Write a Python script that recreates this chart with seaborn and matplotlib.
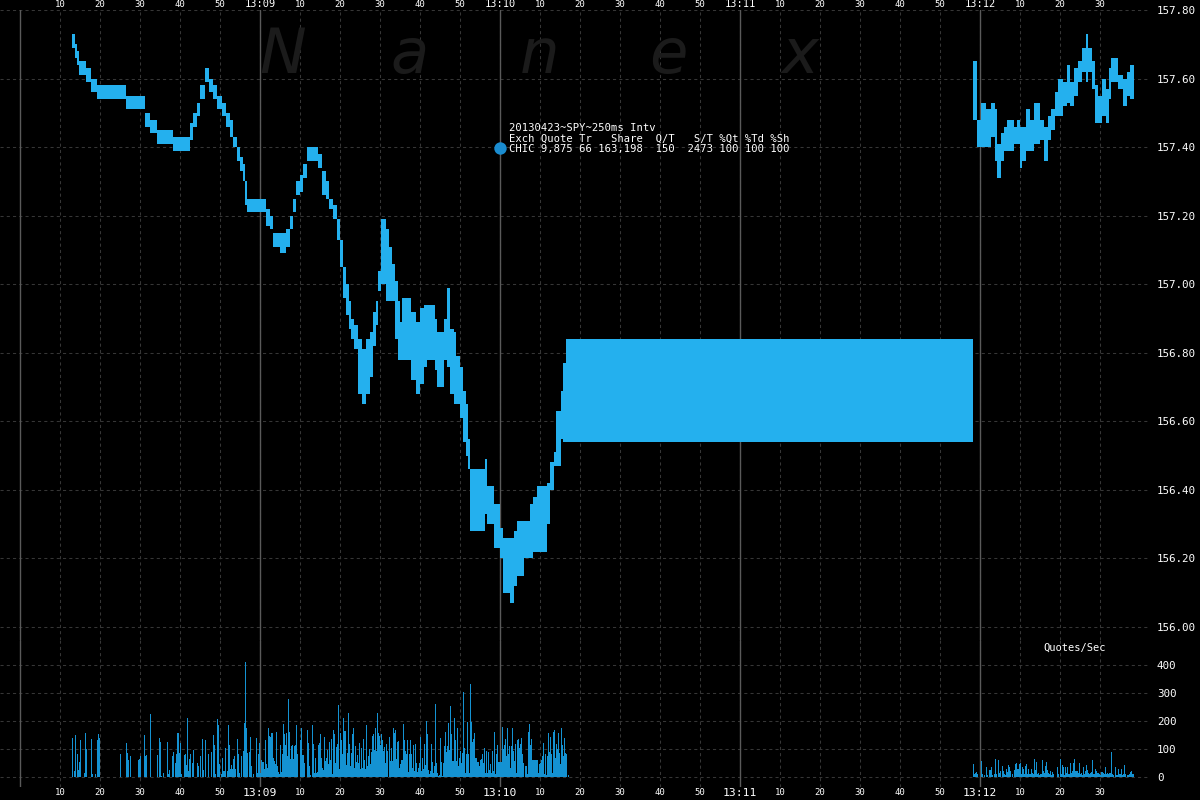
import numpy as np
import pandas as pd
import matplotlib
matplotlib.use("Agg")
import matplotlib.pyplot as plt
import seaborn as sns

# SPY 2013-04-23, CHIC quotes in 250ms intervals. time = seconds after 13:08:00
quote_t = [13.0, 13.75, 14.25, 14.75, 16.5, 17.75, 19.25, 26.5, 31.25, 32.5,
           34.25, 38.25, 42.5, 43.25, 44.25, 45.0, 46.25, 47.25, 48.25, 49.25,
           50.5, 51.5, 52.5, 53.25, 54.25, 55.0, 55.75, 56.25, 56.75, 61.5,
           62.5, 63.25, 65.0, 66.5, 67.5, 68.25, 69.0, 70.0, 70.75, 71.75,
           74.5, 75.5, 76.5, 77.25, 78.25, 79.25, 80.0, 80.75, 81.5, 82.25,
           82.75, 83.5, 84.5, 85.5, 86.5, 87.5, 88.25, 89.0, 89.5, 90.25,
           91.5, 92.25, 93.0, 93.75, 94.5, 95.0, 95.5, 97.75, 99.0, 100.0,
           101.0, 101.75, 103.75, 104.25, 106.0, 106.75, 107.5, 108.5, 109.0, 110.0,
           110.75, 111.5, 112.0, 112.5, 116.25, 116.75, 118.5, 120.0, 120.75, 122.5,
           123.5, 124.25, 126.0, 127.5, 128.25, 129.25, 131.75, 132.5, 133.5, 134.0,
           135.25, 135.75, 136.5,
           238.25, 239.25, 240.25, 241.5, 242.75, 243.75, 244.25, 245.25, 246.0, 246.75,
           248.5, 249.25, 250.0, 250.5, 251.5, 252.5, 253.5, 255.0, 256.0, 257.0,
           257.75, 258.75, 259.5, 260.75, 261.75, 262.5, 263.5, 264.5, 265.5, 266.5,
           267.0, 268.0, 268.75, 269.5, 270.5, 271.5, 272.25, 272.75, 274.5, 275.75,
           276.75, 277.5, 278.5]
quote_ask = [157.73, 157.70, 157.68, 157.65, 157.63, 157.60, 157.58, 157.55, 157.50, 157.48,
             157.45, 157.43, 157.47, 157.50, 157.53, 157.58, 157.63, 157.60, 157.58, 157.55,
             157.53, 157.50, 157.48, 157.43, 157.40, 157.37, 157.35, 157.30, 157.25, 157.22,
             157.20, 157.15, 157.15, 157.16, 157.20, 157.25, 157.30, 157.32, 157.35, 157.40,
             157.38, 157.33, 157.30, 157.25, 157.23, 157.19, 157.13, 157.05, 157.00, 156.95,
             156.90, 156.88, 156.84, 156.81, 156.84, 156.86, 156.92, 156.95, 157.04, 157.19,
             157.16, 157.11, 157.06, 157.01, 156.95, 156.89, 156.96, 156.92, 156.89, 156.93,
             156.94, 156.94, 156.90, 156.86, 156.90, 156.99, 156.87, 156.86, 156.79, 156.76,
             156.69, 156.65, 156.55, 156.46, 156.49, 156.41, 156.36, 156.29, 156.26, 156.26,
             156.28, 156.31, 156.31, 156.36, 156.38, 156.41, 156.42, 156.48, 156.51, 156.63,
             156.69, 156.77, 156.84,
             157.65, 157.48, 157.53, 157.51, 157.53, 157.51, 157.41, 157.44, 157.46, 157.48,
             157.46, 157.48, 157.46, 157.46, 157.51, 157.48, 157.53, 157.48, 157.46, 157.49,
             157.51, 157.56, 157.60, 157.59, 157.64, 157.59, 157.63, 157.65, 157.69, 157.73,
             157.69, 157.65, 157.58, 157.55, 157.60, 157.57, 157.63, 157.66, 157.61, 157.60,
             157.62, 157.64, 157.64]
quote_bid = [157.69, 157.66, 157.64, 157.61, 157.59, 157.56, 157.54, 157.51, 157.46, 157.44,
             157.41, 157.39, 157.42, 157.46, 157.49, 157.54, 157.59, 157.56, 157.54, 157.51,
             157.49, 157.46, 157.43, 157.40, 157.36, 157.33, 157.30, 157.23, 157.21, 157.17,
             157.16, 157.11, 157.09, 157.11, 157.16, 157.21, 157.26, 157.27, 157.31, 157.36,
             157.34, 157.26, 157.25, 157.22, 157.19, 157.13, 157.05, 156.96, 156.91, 156.87,
             156.84, 156.81, 156.68, 156.65, 156.68, 156.73, 156.82, 156.88, 156.98, 157.00,
             156.95, 156.95, 156.95, 156.84, 156.78, 156.78, 156.78, 156.72, 156.68, 156.71,
             156.76, 156.78, 156.75, 156.70, 156.78, 156.76, 156.68, 156.65, 156.65, 156.61,
             156.54, 156.50, 156.46, 156.28, 156.33, 156.30, 156.23, 156.20, 156.10, 156.07,
             156.12, 156.15, 156.20, 156.20, 156.22, 156.22, 156.30, 156.40, 156.47, 156.47,
             156.55, 156.54, 156.54,
             157.48, 157.40, 157.40, 157.40, 157.43, 157.36, 157.31, 157.36, 157.39, 157.39,
             157.41, 157.41, 157.34, 157.36, 157.39, 157.39, 157.41, 157.42, 157.36, 157.42,
             157.45, 157.49, 157.49, 157.52, 157.53, 157.52, 157.55, 157.59, 157.62, 157.59,
             157.62, 157.57, 157.47, 157.47, 157.49, 157.47, 157.54, 157.59, 157.57, 157.52,
             157.55, 157.54, 157.54]

# quotes/sec, one value per 250ms interval
qps_a_start = 13.0      # 13:08:13
qps_a = [140, 0, 21, 149, 0, 81, 24, 55, 131, 0, 0, 0, 15, 156, 99, 0, 0, 0, 0, 134,
         12, 0, 0, 10, 0, 131, 152, 140, 0, 0, 0, 0, 0, 0, 0, 0, 0, 0, 0, 0,
         0, 0, 0, 0, 0, 0, 0, 0, 81, 0, 0, 0, 0, 0, 123, 87, 60, 0, 74, 0,
         0, 0, 0, 0, 0, 0, 60, 63, 74, 0, 0, 0, 149, 74, 77, 0, 0, 0, 226, 0,
         0, 0, 0, 0, 0, 77, 0, 140, 126, 4, 0, 15, 0, 0, 0, 126, 10, 24, 0, 0,
         74, 90, 0, 49, 83, 158, 158, 87, 123, 10, 0, 0, 79, 81, 42, 212, 21, 63, 81, 0,
         51, 95, 0, 0, 0, 51, 38, 0, 75, 0, 134, 24, 0, 131, 0, 0, 81, 0, 0, 89,
         0, 149, 113, 10, 0, 208, 184, 45, 0, 10, 67, 21, 21, 105, 0, 21, 184, 113, 27, 42,
         27, 65, 75, 27, 0, 134, 81, 15, 0, 74, 0, 93, 194, 412, 174, 86, 0, 89, 144, 38,
         0, 10, 0, 0, 140, 14, 81, 120, 15, 60, 55, 55, 27, 131, 45, 31, 176, 146, 143, 158,
         158, 67, 57, 45, 162, 38, 19, 10, 114, 19, 81, 190, 152, 114, 158, 75, 277, 162, 63, 111,
         114, 63, 111, 114, 184, 83, 0, 0, 131, 174, 77, 77, 50, 0, 0, 167, 120, 39, 7, 0,
         186, 117, 15, 67, 14, 19, 114, 120, 155, 67, 31, 25, 144, 57, 67, 96, 45, 126, 60, 134,
         12, 167, 152, 51, 107, 119, 257, 27, 157, 131, 83, 209, 164, 164, 43, 87, 227, 117, 39, 84,
         152, 174, 31, 111, 55, 77, 51, 123, 27, 102, 33, 134, 60, 27, 186, 39, 75, 99, 48, 90,
         146, 152, 95, 174, 93, 227, 158, 146, 114, 152, 131, 93, 107, 51, 119, 93, 0, 143, 57, 105,
         57, 174, 157, 167, 63, 126, 129, 33, 45, 60, 62, 190, 131, 93, 81, 131, 19, 81, 131, 83,
         33, 114, 21, 119, 51, 19, 33, 51, 143, 21, 69, 27, 117, 43, 200, 155, 24, 10, 21, 117,
         55, 15, 38, 259, 51, 15, 4, 7, 140, 55, 4, 51, 111, 162, 90, 111, 194, 95, 253, 152,
         57, 57, 209, 131, 57, 176, 39, 69, 93, 51, 87, 305, 105, 15, 83, 198, 83, 15, 333, 198,
         126, 134, 158, 67, 67, 55, 55, 39, 60, 63, 81, 51, 102, 15, 93, 15, 90, 24, 45, 15,
         93, 21, 162, 12, 81, 114, 55, 55, 55, 55, 179, 99, 114, 134, 75, 174, 81, 111, 31, 111,
         174, 93, 57, 117, 15, 131, 134, 102, 119, 140, 81, 51, 0, 38, 38, 12, 162, 188, 114, 134,
         60, 60, 60, 60, 60, 60, 15, 45, 51, 60, 75, 123, 12, 83, 7, 75, 158, 90, 143, 81,
         15, 162, 167, 67, 119, 99, 158, 87, 45, 176, 113, 75, 140, 87, 83, 0, 7]
qps_b_start = 238.25    # 13:11:58.25
qps_b = [46, 11, 15, 19, 11, 0, 0, 0, 57, 11, 0, 8, 0, 37, 8, 0, 25, 25, 37, 8,
         0, 11, 64, 11, 0, 61, 13, 23, 0, 39, 23, 11, 8, 27, 19, 43, 37, 23, 0, 11,
         0, 25, 46, 51, 27, 27, 46, 49, 11, 37, 27, 11, 39, 46, 11, 27, 11, 11, 27, 15,
         11, 63, 25, 55, 11, 13, 6, 11, 11, 61, 23, 13, 39, 55, 25, 13, 11, 23, 8, 19,
         11, 0, 0, 0, 37, 11, 0, 63, 11, 42, 37, 8, 35, 13, 37, 11, 11, 51, 13, 23,
         49, 63, 23, 23, 23, 13, 49, 11, 15, 8, 37, 11, 23, 43, 25, 13, 11, 13, 19, 61,
         11, 11, 27, 23, 13, 13, 11, 7, 19, 19, 15, 11, 37, 11, 13, 11, 13, 15, 89, 11,
         8, 0, 37, 6, 6, 27, 11, 11, 27, 8, 11, 42, 11, 0, 8, 8, 11, 19, 23, 11, 11]

price_ticks = [156.0, 156.2, 156.4, 156.6, 156.8, 157.0, 157.2, 157.4, 157.6, 157.8]
qps_ticks = [0, 100, 200, 300, 400]
sec_ticks = list(range(10, 280, 10))
minute_lines = [0, 60, 120, 180, 240]

sec_labels = []
for s in sec_ticks:
    if s % 60 == 0:
        sec_labels.append("13:%02d" % (8 + s // 60))
    else:
        sec_labels.append(str(s % 60))

legend_lines = ["20130423~SPY~250ms Intv",
                "Exch Quote Tr   Share  Q/T   S/T %Qt %Td %Sh",
                "CHIC 9,875 66 163,198  150  2473 100 100 100"]

BAND = "#24b0ee"
BARS = "#1492d2"
GRID = "#363636"

sns.set_style("dark", {"axes.facecolor": "black", "figure.facecolor": "black",
                       "grid.color": GRID, "axes.edgecolor": "black"})
plt.rcParams["font.family"] = ["DejaVu Sans Mono", "DejaVu Sans"]

fig = plt.figure(figsize=(12, 8), dpi=100)
fig.patch.set_facecolor("black")
W, H = 1200.0, 800.0
ax_p = fig.add_axes([0, 1 - 640 / H, 1150 / W, 630 / H])
ax_v = fig.add_axes([0, 1 - 787 / H, 1150 / W, 147 / H])

# watermark
for ch, cx in zip("Nanex", [283, 410, 540, 668, 800]):
    fig.text(cx / W, 1 - 73 / H, ch, fontsize=45, style="italic", color="#1b1b1b",
             family="DejaVu Sans", ha="center", va="baseline", zorder=0)

xmin, xmax = -5, 282.5
for ax in (ax_p, ax_v):
    ax.set_facecolor("none")
    ax.set_xlim(xmin, xmax)
    ax.set_xticks(sec_ticks)
    ax.grid(True, color=GRID, linestyle=(0, (3, 3)), linewidth=0.75)
    ax.set_axisbelow(True)
    for sp in ax.spines.values():
        sp.set_visible(False)
    for m in minute_lines:
        ax.axvline(m, color="#5a5a5a", linewidth=1, zorder=1)
    ax.yaxis.tick_right()
    ax.tick_params(axis="y", length=0, pad=5, colors="white", labelsize=7.8)

# price band
ax_p.fill_between(quote_t, quote_bid, quote_ask, step="post", color=BAND,
                  linewidth=0, zorder=2)
ax_p.set_ylim(157.80 - 630 / 342.8, 157.80)
ax_p.set_yticks(price_ticks)
ax_p.set_yticklabels(["%.2f" % p for p in price_ticks])
ax_p.set_xticklabels(sec_labels)
ax_p.tick_params(axis="x", top=True, labeltop=True, bottom=False, labelbottom=False,
                 length=0, pad=0.5, colors="white", labelsize=6.5)

# quotes per second
t_a = qps_a_start + 0.25 * np.arange(len(qps_a)) + 0.125
t_b = qps_b_start + 0.25 * np.arange(len(qps_b)) + 0.125
vol = pd.DataFrame({"t": np.concatenate([t_a, t_b]), "q": qps_a + qps_b})
sns.barplot(data=vol, x="t", y="q", native_scale=True, width=1.0, color=BARS,
            saturation=1, linewidth=0, errorbar=None, ax=ax_v, zorder=2,
            antialiased=False)
ax_v.set_xlim(xmin, xmax)
ax_v.set_xticks(sec_ticks)
ax_v.set_xticklabels(sec_labels)
ax_v.set_ylim(-10 / 0.28, 137 / 0.28)
ax_v.set_yticks(qps_ticks)
ax_v.set_yticklabels([str(q) for q in qps_ticks])
ax_v.set_xlabel("")
ax_v.set_ylabel("")
ax_v.tick_params(axis="x", length=0, pad=1, colors="white", labelsize=6.5)
ax_v.text(1043 / 1150, 1 - 8 / 147, "Quotes/Sec", transform=ax_v.transAxes,
          color="white", fontsize=7.5, va="center", ha="left")

for ax, big in ((ax_p, 7.5), (ax_v, 8.2)):
    for lab in ax.get_xticklabels():
        if ":" in lab.get_text():
            lab.set_fontsize(big)

# info box
ax_p.scatter([500 / W], [1 - 148 / H], s=80, color="#1a8cd0", transform=fig.transFigure,
             clip_on=False, zorder=5, linewidths=0)
for i, line in enumerate(legend_lines):
    fig.text(509 / W, 1 - (128 + 10.3 * i) / H, line, color="white", fontsize=7.6,
             va="center", ha="left")

fig.savefig("out.png", dpi=100, facecolor="black")
